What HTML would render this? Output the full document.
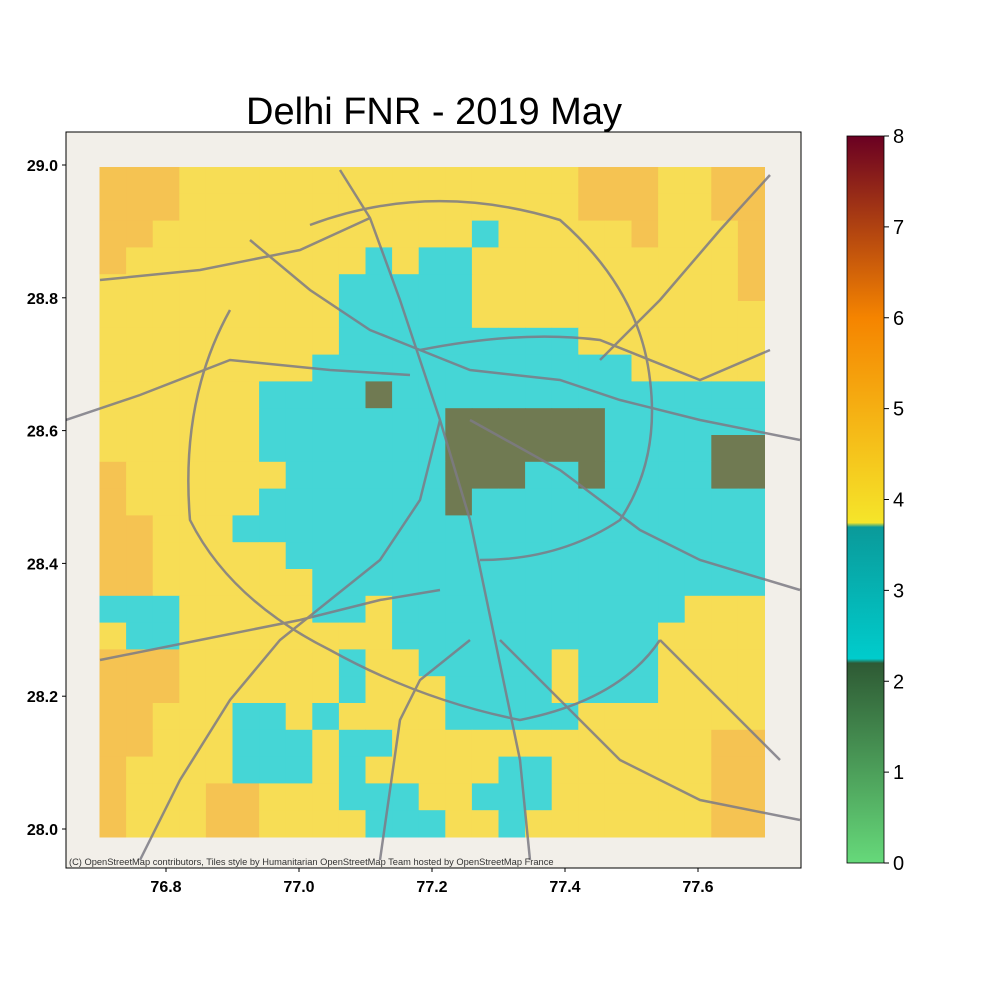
<!DOCTYPE html>
<html><head><meta charset="utf-8"><style>
body{margin:0;background:#fff;}
svg text{font-family:"Liberation Sans",sans-serif;}
</style></head><body>
<svg width="1000" height="1000" xmlns="http://www.w3.org/2000/svg">
<defs>
<linearGradient id="cb" x1="0" y1="1" x2="0" y2="0">
<stop offset="0" stop-color="#66d97a"/><stop offset="0.275" stop-color="#2e5a34"/>
<stop offset="0.281" stop-color="#00cccc"/><stop offset="0.462" stop-color="#0a9a9a"/>
<stop offset="0.468" stop-color="#f5e52a"/><stop offset="0.75" stop-color="#f58400"/>
<stop offset="1" stop-color="#6a0022"/>
</linearGradient>
<clipPath id="ax"><rect x="66" y="132" width="735" height="736"/></clipPath>
</defs>
<text x="434" y="124" font-size="38" text-anchor="middle">Delhi FNR - 2019 May</text>
<rect x="66" y="132" width="735" height="736" fill="#f2efe9"/>
<g id="cells"></g>
<g clip-path="url(#ax)" fill="none" stroke="#7d7b85" stroke-width="2.5" opacity="0.85">
<path d="M340 170 L370 218 L400 300 L420 360 L440 420 L470 520 L495 640 L520 760 L530 860"/>
<path d="M250 240 L310 290 L370 330 L420 350 L470 370 L560 380 L620 400 L700 420 L800 440"/>
<path d="M230 310 Q180 400 190 520 Q230 600 330 650 Q420 700 520 720 Q620 700 660 640"/>
<path d="M310 225 Q430 180 560 220 Q640 290 650 380 Q660 460 620 520 Q560 560 480 560"/>
<path d="M66 420 L140 395 L230 360 L330 370 L410 375"/>
<path d="M470 420 L560 470 L640 530 L700 560 L800 590"/>
<path d="M100 660 L200 640 L300 620 L380 600 L440 590"/>
<path d="M600 360 L660 300 L720 230 L770 175"/>
<path d="M440 420 L420 500 L380 560 L330 600 L280 640 L230 700 L180 780 L140 860"/>
<path d="M500 640 L560 700 L620 760 L700 800 L800 820"/>
<path d="M370 218 L300 250 L200 270 L100 280"/>
<path d="M420 350 Q520 330 600 340 L700 380 L770 350"/>
<path d="M380 860 L400 720 L420 680 L470 640"/>
<path d="M660 640 L720 700 L780 760"/>
</g>
<rect x="66" y="132" width="735" height="736" fill="none" stroke="#000" stroke-width="1"/>
<text x="69" y="865" font-size="9.3" fill="#333">(C) OpenStreetMap contributors, Tiles style by Humanitarian OpenStreetMap Team hosted by OpenStreetMap France</text>
<g id="xt"></g>
<g id="yt"></g>
<rect x="847" y="136" width="37" height="727" fill="url(#cb)" stroke="#000" stroke-width="0.8"/>
<g id="ct"></g>
</svg>
<script>
const gridRows=[
"5554444444444444445554455","5554444444444444445554455","5544444444444434444454445",
"5444444444343344444444445","4444444443333344444444445","4444444443333344444444444",
"4444444443333333334444444","4444444433333333333344444","4444443333233333333333333",
"4444443333333222222333333","4444443333333222222333322","5444444333333222332333322",
"5444443333333233333333333","5544433333333333333333333","5544444333333333333333333",
"5544444433333333333333333","3334444433433333333333444","4334444444433333333334444",
"5554444443443333343334444","5554444443444333343334444","5544433434444333334444444",
"5544433343344444444444455","5444433343444443344444455","5444554443334433344444455",
"5444554444333443444444455"];
const valueByCode={"5":4.7,"4":4.2,"3":3.0,"2":1.8};
const xTicks=[76.8,77.0,77.2,77.4,77.6];
const yTicks=[28.0,28.2,28.4,28.6,28.8,29.0];
const cbTicks=[0,1,2,3,4,5,6,7,8];
const lonMin=76.7,lonMax=77.7,latMin=28.0,latMax=29.0;
const X=v=>99.5+(v-lonMin)*665, Y=v=>829-(v-latMin)*664, CB=v=>863-v*(727/8);
function col(v){if(v<2.25)return "#707a52";if(v<3.7)return "#45d6d6";if(v<4.5)return "#f7dd55";return "#f5c352";}
const NS="http://www.w3.org/2000/svg";
const g=document.getElementById('cells');
const n=gridRows.length, cw=(X(lonMax)-X(lonMin))/25, ch=(Y(latMin)-Y(latMax)+6)/n;
gridRows.forEach((row,i)=>{[...row].forEach((c,j)=>{
const r=document.createElementNS(NS,'rect');


r.setAttribute('x',X(lonMin)+j*cw);r.setAttribute('y',167+i*ch);
r.setAttribute('width',cw+0.5);r.setAttribute('height',ch+0.5);
r.setAttribute('fill',col(valueByCode[c]));g.appendChild(r);});});
const xt=document.getElementById('xt');
xTicks.forEach(v=>{const x=X(v);
xt.insertAdjacentHTML('beforeend',`<line x1="${x}" y1="868" x2="${x}" y2="872" stroke="#000"/>`);
const t=document.createElementNS(NS,'text');


t.setAttribute('x',x);t.setAttribute('y',892);t.setAttribute('font-size','16');t.setAttribute('font-weight','bold');t.setAttribute('text-anchor','middle');t.textContent=v.toFixed(1);xt.appendChild(t);});
const yt=document.getElementById('yt');
yTicks.forEach(v=>{const y=Y(v);
yt.insertAdjacentHTML('beforeend',`<line x1="62" y1="${y}" x2="66" y2="${y}" stroke="#000"/>`);
const t=document.createElementNS(NS,'text');


t.setAttribute('x',58);t.setAttribute('y',y+6);t.setAttribute('font-size','16');t.setAttribute('font-weight','bold');t.setAttribute('text-anchor','end');t.textContent=v.toFixed(1);yt.appendChild(t);});
const ct=document.getElementById('ct');
cbTicks.forEach(v=>{const y=CB(v);
ct.insertAdjacentHTML('beforeend',`<line x1="884" y1="${y}" x2="889" y2="${y}" stroke="#000"/>`);
const t=document.createElementNS(NS,'text');


t.setAttribute('x',893);t.setAttribute('y',y+7);t.setAttribute('font-size','20');t.textContent=v;ct.appendChild(t);});
</script>
</body></html>
